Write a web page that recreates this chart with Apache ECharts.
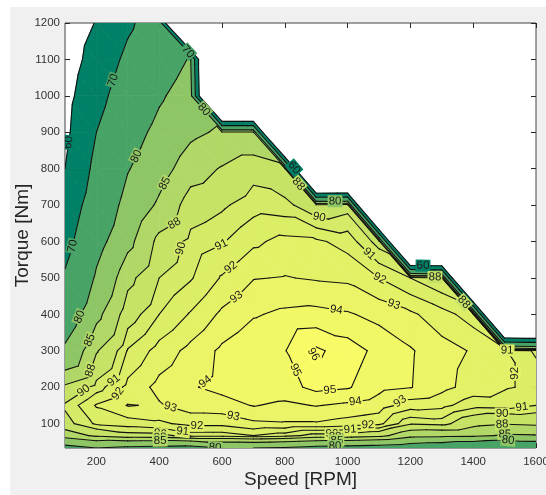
<!DOCTYPE html>
<html><head><meta charset="utf-8">
<script src="https://cdn.jsdelivr.net/npm/echarts/dist/echarts.min.js"></script>
<style>html,body{margin:0;padding:0;background:#fff;}#chart{width:546px;height:495px;}</style>
</head><body><div id="chart"></div>
<script>
// ---- data ----
const speeds  = [100,200,300,400,500,600,700,800,900,1000,1100,1200,1300,1400,1500,1600];
const torques = [33,67,100,150,200,300,400,500,600,700,800,900,1000,1100,1200];
// efficiency [%] per torque row, one value per speed; 0 = beyond max-torque envelope
const effT33   = [78,80,79,78.5,78,80,80,79.5,78.5,78,77.5,76.5,75.5,73.5,71.5,74.5];
const effT67   = [86.5,88.5,89.5,89.6,90.5,90.5,91,90.5,89.5,89.5,88.8,86.2,85.9,85.8,84.6,84.8];
const effT100  = [89.5,91.2,91.5,91.8,92.3,92.3,92.8,92.9,92.9,92.6,92.3,90.2,90.5,88.8,88.2,88.5];
const effT150  = [90.2,92.1,93.05,92.9,93.5,93.6,94.05,93.8,94.05,93.8,93.5,92.5,92.3,91.4,91.5,91.0];
const effT200  = [88.5,90.5,92.3,93.3,93.9,94.3,94.7,94.6,95.3,95.1,94.3,94.05,93.3,92.6,92.1,91.8];
const effT300  = [81,87.8,91.1,92.4,93.3,94.2,94.8,94.95,96.2,95.5,94.7,94.1,93.4,92.9,92.1,90.8];
const effT400  = [76,84,89.3,91,92.1,93.2,93.9,94.2,94.3,94.1,93.7,93.2,92.4,91.5,0,0];
const effT500  = [71,80.8,87.3,90,90.9,92.1,92.95,93.05,92.9,92.8,92,91,90,0,0,0];
const effT600  = [67,78,84,88.8,90.4,90.9,91.8,92.3,92.2,91.6,89.5,0,0,0,0,0];
const effT700  = [64,75,82,85.6,89.2,89.8,90.6,90.4,89,89.5,0,0,0,0,0,0];
const effT800  = [60,72.5,79.7,83.5,86.8,88.2,89.5,88.5,0,0,0,0,0,0,0,0];
const effT900  = [58,70,77.5,81.5,84.3,85.5,85.5,0,0,0,0,0,0,0,0,0];
const effT1000 = [57,67,75,79.3,82.5,0,0,0,0,0,0,0,0,0,0,0];
const effT1100 = [55,64,72,77,80.4,0,0,0,0,0,0,0,0,0,0,0];
const effT1200 = [53.5,60.5,68.5,75,0,0,0,0,0,0,0,0,0,0,0,0];
const levels = [60,70,80,85,88,90,91,92,93,94,95,96];
const xTickValues = [200,400,600,800,1000,1200,1400,1600];
const yTickValues = [100,200,300,400,500,600,700,800,900,1000,1100,1200];
// contour label spots: [speed, torque, level]
const labelSpots = [
 [132,869,60],[253,1043,70],[122,588,70],[323,836,80],[141,395,80],[412,762,85],[173,331,85],
 [457,637,88],[170,249,88],[498,574,90],[173,174,90],[600,588,91],[234,243,91],[632,525,92],
 [259,188,92],[648,445,93],[434,141,93],[546,216,94],[635,119,93],[520,83,92],[473,70,91],
 [403,72,90],[403,59,88],[403,48,85],[578,36,80],
 [896,293,96],[839,249,95],[944,188,95],[1024,166,94],[966,422,94],[1145,422,93],[1176,141,93],
 [1065,92,92],[1008,86,91],[950,72,90],[960,59,88],[966,48,85],[960,38,80],
 [912,676,90],[1062,560,91],[1103,500,92],
 [1514,238,92],[1555,147,91],[1492,128,90],[1492,108,88],[1501,86,85],[1511,53,80],[1508,304,91],
 [498,1126,70],[540,960,80],[826,800,60],[839,753,88],[960,704,80],[1240,533,60],[1278,500,88],[1368,431,88]
];

const grid = [effT33,effT67,effT100,effT150,effT200,effT300,effT400,effT500,effT600,effT700,effT800,effT900,effT1000,effT1100,effT1200];

function summer(t){
  t=Math.max(0,Math.min(1,t));
  return 'rgb('+Math.round(255*t)+','+Math.round(255*(0.5+0.5*t))+','+Math.round(255*0.4)+')';
}
const lo0=levels[0], hi0=levels[levels.length-1];
function bandColor(k){ return summer((levels[k]-lo0)/(hi0-lo0)); }

function locate(arr,x){ let i=0; while(i<arr.length-2 && x>arr[i+1]) i++; return i; }
function fieldAt(s,T){
  const i=locate(speeds,s), j=locate(torques,T);
  const u=(s-speeds[i])/(speeds[i+1]-speeds[i]), w=(T-torques[j])/(torques[j+1]-torques[j]);
  const v00=grid[j][i], v10=grid[j][i+1], v01=grid[j+1][i], v11=grid[j+1][i+1];
  if(u+w<=1) return v00+(v10-v00)*u+(v01-v00)*w;
  return v11+(v01-v11)*(1-u)+(v10-v11)*(1-w);
}
function clipPoly(poly, level, keepAbove){
  const out=[];
  for(let a=0;a<poly.length;a++){
    const p=poly[a], q=poly[(a+1)%poly.length];
    const pin = keepAbove ? p.v>=level : p.v<=level;
    const qin = keepAbove ? q.v>=level : q.v<=level;
    if(pin) out.push(p);
    if(pin!==qin){
      const t=(level-p.v)/(q.v-p.v);
      out.push({s:p.s+t*(q.s-p.s), T:p.T+t*(q.T-p.T), v:level});
    }
  }
  return out;
}

const cells=[];
for(let j=0;j<torques.length-1;j++) for(let i=0;i<speeds.length-1;i++)
  cells.push([(speeds[i]+speeds[i+1])/2,(torques[j]+torques[j+1])/2,i,j]);

function renderCell(params, api){
  const i=api.value(2), j=api.value(3);
  const P=(a,b)=>({s:speeds[a],T:torques[b],v:grid[b][a]});
  const c00=P(i,j), c10=P(i+1,j), c01=P(i,j+1), c11=P(i+1,j+1);
  const tris=[[c00,c10,c01],[c10,c11,c01]];
  const fills=[], lines=[];
  for(const tri of tris){
    for(let k=0;k<levels.length;k++){
      let poly=clipPoly(tri, levels[k], true);
      if(k+1<levels.length && poly.length>=3) poly=clipPoly(poly, levels[k+1], false);
      if(poly.length<3) continue;
      const pts=poly.map(p=>api.coord([p.s,p.T]));
      const col=bandColor(k);
      fills.push({type:'polygon', shape:{points:pts}, style:{fill:col, stroke:col, lineWidth:0.7}});
    }
    for(const L of levels){
      const hits=[];
      for(let e=0;e<3;e++){
        const p=tri[e], q=tri[(e+1)%3];
        if((p.v<L)!==(q.v<L)){
          const t=(L-p.v)/(q.v-p.v);
          hits.push(api.coord([p.s+t*(q.s-p.s), p.T+t*(q.T-p.T)]));
        }
      }
      if(hits.length===2) lines.push({type:'line', shape:{x1:hits[0][0],y1:hits[0][1],x2:hits[1][0],y2:hits[1][1]},
        style:{stroke:'#111', lineWidth:1.1, lineCap:'round'}, z2:10});
    }
  }
  return {type:'group', children: fills.concat(lines)};
}

function renderLabel(params, api){
  const L=api.value(2);
  let s=api.value(0), T=api.value(1);
  const nS=speeds.length-1, nT=torques.length-1;
  const a=api.coord([speeds[0],torques[0]]), b=api.coord([speeds[nS],torques[nT]]);
  const kx=(b[0]-a[0])/(speeds[nS]-speeds[0]), ky=(a[1]-b[1])/(torques[nT]-torques[0]);
  function grad(s,T){
    const h=1.5;
    const fs=(fieldAt(s+h,T)-fieldAt(s-h,T))/(2*h);
    const fT=(fieldAt(s,T+h)-fieldAt(s,T-h))/(2*h);
    return [fs/kx, -fT/ky];
  }
  for(let it=0;it<20;it++){
    const f=fieldAt(s,T);
    const g=grad(s,T); const g2=g[0]*g[0]+g[1]*g[1];
    if(g2<1e-9) break;
    let dX=(L-f)*g[0]/g2, dY=(L-f)*g[1]/g2;
    const m=Math.hypot(dX,dY); if(m>3){dX*=3/m; dY*=3/m;}
    s+=dX/kx; T-=dY/ky;
    s=Math.max(speeds[0],Math.min(speeds[nS],s)); T=Math.max(torques[0],Math.min(torques[nT],T));
  }
  if(Math.abs(fieldAt(s,T)-L)>0.4) return null;
  const g=grad(s,T);
  const tX=-g[1], tY=g[0];
  let ang=Math.atan2(-tY,tX);
  if(ang>Math.PI/2) ang-=Math.PI; if(ang<=-Math.PI/2) ang+=Math.PI;
  const p=api.coord([s,T]);
  const k=levels.indexOf(L);
  return {type:'text', x:p[0], y:p[1], rotation:ang, z2:50,
    style:{text:String(L), fill:'#1a1a1a', fontSize:11.5, fontFamily:'Liberation Sans, Arial, sans-serif',
      align:'center', verticalAlign:'middle', backgroundColor:bandColor(k), padding:[0,1]}};
}

const chart=echarts.init(document.getElementById('chart'),null,{renderer:'canvas'});
const axisCol='#262626';
const plainFmt=v=>String(v);
chart.setOption({
  animation:false,
  backgroundColor:'#f0f0f0',
  graphic:[
    {type:'rect', left:0, top:0, shape:{width:546,height:7}, style:{fill:'#fff'}, silent:true},
    {type:'rect', left:0, top:0, shape:{width:10,height:495}, style:{fill:'#fff'}, silent:true}
  ],
  grid:{left:65,right:10,top:23,bottom:47,show:true,backgroundColor:'#fff',borderColor:'#444',borderWidth:1,outerBoundsMode:'none',containLabel:false},
  xAxis:[{type:'value',min:speeds[0],max:speeds[speeds.length-1],position:'bottom',
    axisLine:{show:false},splitLine:{show:false},
    axisTick:{show:true,inside:true,length:5,customValues:xTickValues,lineStyle:{color:axisCol}},
    axisLabel:{customValues:xTickValues,formatter:plainFmt,color:'#333',fontSize:11.5,margin:8,fontFamily:'Liberation Sans, Arial, sans-serif'},
    name:'Speed [RPM]',nameLocation:'middle',nameGap:22,nameMoveOverlap:false,
    nameTextStyle:{fontSize:19,color:axisCol,fontFamily:'Liberation Sans, Arial, sans-serif',verticalAlign:'top'}},
   {type:'value',min:speeds[0],max:speeds[speeds.length-1],position:'top',
    axisLine:{show:false},splitLine:{show:false},axisLabel:{show:false},
    axisTick:{show:true,inside:true,length:5,customValues:xTickValues,lineStyle:{color:axisCol}}}],
  yAxis:[{type:'value',min:torques[0],max:torques[torques.length-1],position:'left',
    axisLine:{show:false},splitLine:{show:false},
    axisTick:{show:true,inside:true,length:5,customValues:yTickValues,lineStyle:{color:axisCol}},
    axisLabel:{customValues:yTickValues,formatter:plainFmt,color:'#333',fontSize:11.5,margin:5,fontFamily:'Liberation Sans, Arial, sans-serif'},
    name:'Torque [Nm]',nameLocation:'middle',nameGap:33,nameMoveOverlap:false,
    nameTextStyle:{fontSize:19,color:axisCol,fontFamily:'Liberation Sans, Arial, sans-serif'}},
   {type:'value',min:torques[0],max:torques[torques.length-1],position:'right',
    axisLine:{show:false},splitLine:{show:false},axisLabel:{show:false},
    axisTick:{show:true,inside:true,length:5,customValues:yTickValues,lineStyle:{color:axisCol}}}],
  series:[
    {type:'custom',coordinateSystem:'cartesian2d',xAxisIndex:0,yAxisIndex:0,renderItem:renderCell,
     data:cells,encode:{x:0,y:1},z:2,silent:true,clip:true},
    {type:'custom',coordinateSystem:'cartesian2d',xAxisIndex:0,yAxisIndex:0,renderItem:renderLabel,
     data:labelSpots,encode:{x:0,y:1},z:5,silent:true,clip:true}
  ]
});
</script></body></html>
